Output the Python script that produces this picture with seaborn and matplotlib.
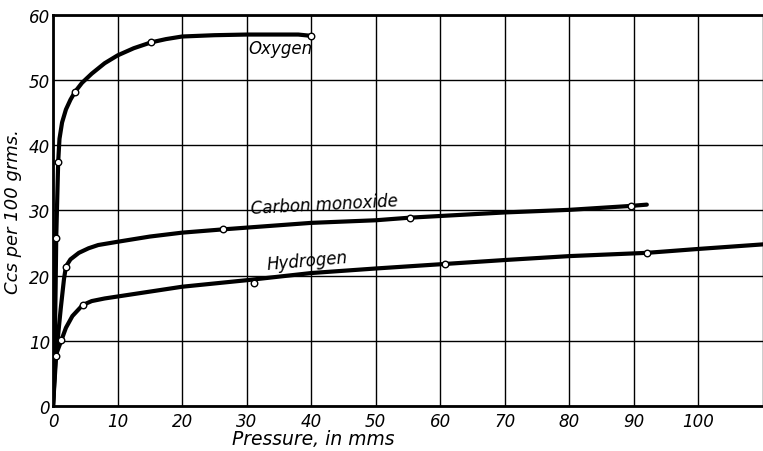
import numpy as np
import pandas as pd
import matplotlib
matplotlib.use("Agg")
import matplotlib.pyplot as plt
import seaborn as sns

# ---- data ----
# drawn curves (hand-smoothed lines)
oxygen_x = [0.0, 0.2, 0.4, 0.5, 0.8, 1.0, 1.4, 2.0, 2.7, 3.4, 4.5, 6.0, 8.0, 10.0,
            12.5, 15.2, 17.5, 20.0, 25.0, 30.0, 35.0, 38.0, 40.0]
oxygen_y = [0.0, 5.0, 18.0, 26.0, 37.5, 41.0, 43.5, 45.5, 47.0, 48.2, 49.6, 51.0, 52.6, 53.8,
            54.9, 55.8, 56.3, 56.7, 56.9, 57.0, 57.0, 57.0, 56.8]

co_x = [0.0, 0.5, 1.2, 1.7, 2.0, 2.7, 4.0, 5.5, 7.0, 10.0, 15.0, 20.0, 26.3, 40.0,
        50.0, 55.3, 70.0, 80.0, 89.5, 92.0]
co_y = [0.0, 8.0, 15.0, 19.5, 21.4, 22.5, 23.5, 24.2, 24.7, 25.2, 26.0, 26.6, 27.1, 28.1,
        28.5, 28.9, 29.7, 30.1, 30.7, 30.9]

h2_x = [0.0, 0.4, 1.3, 2.0, 3.0, 4.6, 6.0, 8.0, 10.0, 20.0, 30.0, 40.0, 50.0, 60.8,
        70.0, 80.0, 92.0, 100.0, 110.0]
h2_y = [0.0, 7.7, 10.1, 12.0, 13.8, 15.5, 16.1, 16.5, 16.8, 18.3, 19.3, 20.4, 21.1, 21.8,
        22.4, 23.0, 23.5, 24.1, 24.8]

# observed points (open circles)
oxygen_px = [0.5, 0.8, 3.4, 15.2, 40.0]
oxygen_py = [25.8, 37.5, 48.2, 55.8, 56.8]
co_px = [2.0, 26.3, 55.3, 89.5]
co_py = [21.4, 27.1, 28.9, 30.7]
h2_px = [0.4, 1.3, 4.6, 31.2, 60.8, 92.0]
h2_py = [7.7, 10.1, 15.5, 18.9, 21.8, 23.5]

x_ticks = [0, 10, 20, 30, 40, 50, 60, 70, 80, 90, 100]
y_ticks = [0, 10, 20, 30, 40, 50, 60]
gas_labels = ["Oxygen", "Carbon monoxide", "Hydrogen"]
x_label = "Pressure, in mms"
y_label = "Ccs per 100 grms."

# ---- build tables ----
curves = pd.concat([
    pd.DataFrame({"x": oxygen_x, "y": oxygen_y, "gas": gas_labels[0]}),
    pd.DataFrame({"x": co_x, "y": co_y, "gas": gas_labels[1]}),
    pd.DataFrame({"x": h2_x, "y": h2_y, "gas": gas_labels[2]}),
], ignore_index=True)
points = pd.concat([
    pd.DataFrame({"x": oxygen_px, "y": oxygen_py, "gas": gas_labels[0]}),
    pd.DataFrame({"x": co_px, "y": co_py, "gas": gas_labels[1]}),
    pd.DataFrame({"x": h2_px, "y": h2_py, "gas": gas_labels[2]}),
], ignore_index=True)

sns.set_style("white")
plt.rcParams["font.family"] = ["DejaVu Sans"]
plt.rcParams["text.color"] = "black"
plt.rcParams["axes.labelcolor"] = "black"
plt.rcParams["xtick.color"] = "black"
plt.rcParams["ytick.color"] = "black"

fig = plt.figure(figsize=(7.63, 4.52), dpi=100)
ax = fig.add_axes([0.0695, 0.0996, 0.9305, 0.865])

for g in gas_labels:
    sub = curves[curves.gas == g]
    sns.lineplot(data=sub, x="x", y="y", sort=False, estimator=None,
                 color="black", linewidth=3.0, ax=ax, zorder=3)
    ax.lines[-1].set_solid_joinstyle("round")
    ax.lines[-1].set_solid_capstyle("round")
sns.scatterplot(data=points, x="x", y="y", s=22, marker="o",
                facecolor="white", edgecolor="black", linewidth=1.0,
                ax=ax, zorder=4, legend=False)

ax.set_xlim(0, 110)
ax.set_ylim(0, 60)
ax.set_xticks(x_ticks)
ax.set_yticks(y_ticks)
ax.set_xticks([110], minor=True)
ax.grid(True, which="both", color="black", linewidth=1.0)
ax.tick_params(axis="x", which="both", length=0, labelsize=12, pad=4, labelcolor="black")
ax.tick_params(axis="y", which="both", length=0, labelsize=12, pad=2, labelcolor="black")
for lab in ax.get_xticklabels() + ax.get_yticklabels():
    lab.set_fontstyle("italic")

for side in ["left", "bottom", "top"]:
    ax.spines[side].set_color("black")
    ax.spines[side].set_linewidth(2.0)
ax.spines["right"].set_visible(False)

ax.set_xlabel(x_label, fontsize=13.5, fontstyle="italic", color="black")
ax.set_ylabel(y_label, fontsize=13, fontstyle="italic", color="black")
ax.xaxis.set_label_coords(0.366, -0.06)
ax.yaxis.set_label_coords(-0.043, 0.5)

ax.text(30.2, 55.0, gas_labels[0], fontsize=12, fontstyle="italic", ha="left", va="center", color="black")
ax.text(30.5, 31.0, gas_labels[1], fontsize=12, fontstyle="italic", ha="left", va="center", rotation=3, color="black")
ax.text(33.0, 22.3, gas_labels[2], fontsize=12, fontstyle="italic", ha="left", va="center", rotation=5, color="black")

fig.savefig("out.png", dpi=100)
